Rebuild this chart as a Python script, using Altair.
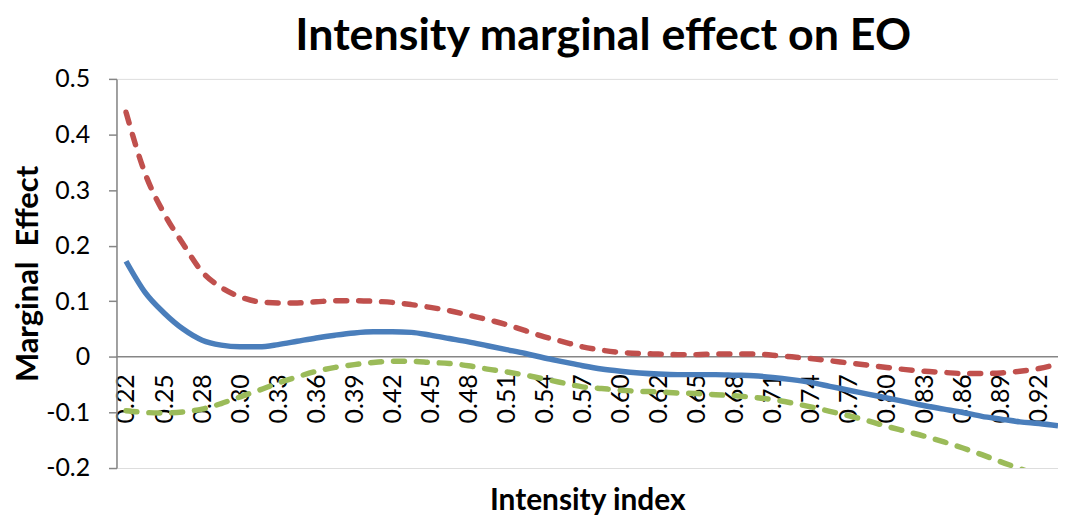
import altair as alt
import pandas as pd

# category positions along the x axis (every second one is labelled)
cats = ["0.22", "0.235", "0.25", "0.265", "0.28", "0.29", "0.30", "0.315", "0.33", "0.345",
        "0.36", "0.375", "0.39", "0.405", "0.42", "0.435", "0.45", "0.465", "0.48", "0.495",
        "0.51", "0.525", "0.54", "0.555", "0.57", "0.585", "0.60", "0.61", "0.62", "0.635",
        "0.65", "0.665", "0.68", "0.695", "0.71", "0.725", "0.74", "0.755", "0.77", "0.785",
        "0.80", "0.815", "0.83", "0.845", "0.86", "0.875", "0.89", "0.905", "0.92", "0.935"]

label_cats = ["0.22", "0.25", "0.28", "0.30", "0.33", "0.36", "0.39", "0.42", "0.45", "0.48",
              "0.51", "0.54", "0.57", "0.60", "0.62", "0.65", "0.68", "0.71", "0.74", "0.77",
              "0.80", "0.83", "0.86", "0.89", "0.92"]

effect = [0.172, 0.116, 0.079, 0.050, 0.030, 0.021, 0.018, 0.018, 0.022, 0.028,
          0.034, 0.039, 0.043, 0.045, 0.045, 0.044, 0.039, 0.033, 0.027, 0.020,
          0.013, 0.006, -0.002, -0.009, -0.016, -0.022, -0.026, -0.029, -0.031, -0.032,
          -0.032, -0.032, -0.033, -0.034, -0.037, -0.041, -0.046, -0.053, -0.060, -0.067,
          -0.074, -0.081, -0.088, -0.094, -0.100, -0.107, -0.112, -0.117, -0.120, -0.124]

upper = [0.440, 0.330, 0.258, 0.203, 0.153, 0.125, 0.108, 0.099, 0.097, 0.097,
         0.099, 0.101, 0.101, 0.100, 0.098, 0.094, 0.089, 0.083, 0.075, 0.067,
         0.058, 0.047, 0.036, 0.027, 0.018, 0.012, 0.008, 0.006, 0.005, 0.004,
         0.004, 0.005, 0.005, 0.005, 0.003, 0.000, -0.003, -0.007, -0.011, -0.015,
         -0.019, -0.023, -0.026, -0.028, -0.030, -0.030, -0.029, -0.026, -0.021, -0.013]

lower = [-0.097, -0.100, -0.101, -0.099, -0.094, -0.084, -0.072, -0.060, -0.047, -0.036,
         -0.026, -0.019, -0.014, -0.010, -0.008, -0.008, -0.010, -0.012, -0.016, -0.022,
         -0.027, -0.033, -0.040, -0.047, -0.054, -0.057, -0.060, -0.062, -0.063, -0.065,
         -0.066, -0.068, -0.070, -0.073, -0.077, -0.083, -0.090, -0.098, -0.106, -0.115,
         -0.125, -0.134, -0.143, -0.153, -0.164, -0.176, -0.189, -0.201, -0.214, -0.227]

y_ticks = [-0.2, -0.1, 0, 0.1, 0.2, 0.3, 0.4, 0.5]

df = pd.DataFrame({"idx": cats, "Effect": effect, "Upper": upper, "Lower": lower})
zero_df = pd.DataFrame({"v": [0]})

W, H = 946, 391
FONT = "Lato"
GRAY = "#868686"
AXIS_Y = H * 0.5 / 0.7  # pixel position of value 0 from the top of the plot

yscale = alt.Scale(domain=[-0.2, 0.5], nice=False, zero=False)
xscale = alt.Scale(type="point", domain=cats, range=[9.6, W], padding=0)

xaxis = alt.Axis(values=label_cats, labelAngle=270, offset=-(H - AXIS_Y),
                 ticks=False, domain=False, grid=False, labelPadding=17,
                 labelFont=FONT, labelFontSize=25, labelColor="black",
                 title="Intensity index", titleFont=FONT, titleFontSize=30,
                 titleFontWeight="bold", titleColor="black",
                 titleX=W / 2, titleY=153, titleBaseline="alphabetic", titleAlign="center")

yaxis = alt.Axis(values=y_ticks, grid=False, tickSize=8, tickColor=GRAY, tickWidth=1.5,
                 domainColor=GRAY, domainWidth=1.5, labelPadding=19,
                 labelExpr="datum.value == 0 ? '0' : (datum.value < 0 ? '-' + format(-datum.value, '.1f') : format(datum.value, '.1f'))",
                 labelFont=FONT, labelFontSize=25, labelColor="black",
                 title="Marginal\u00a0\u00a0Effect", titleFont=FONT, titleFontSize=31,
                 titleFontWeight="bold", titleColor="black", titleAngle=270,
                 titleX=-88, titleY=H / 2, titleBaseline="middle", titleAlign="center")

base = alt.Chart(df)
x_enc = alt.X("idx:O", sort=cats, scale=xscale, axis=xaxis, title="Intensity index")

zero_line = alt.Chart(zero_df).mark_rule(color=GRAY, strokeWidth=1.5).encode(
    y=alt.Y("v:Q", scale=yscale), x=alt.value(0), x2=alt.value(W + 3))

LW = 5.5
blue = base.mark_line(color="#4A7EBB", strokeWidth=LW, interpolate="monotone", clip=True).encode(
    x=x_enc, y=alt.Y("Effect:Q", scale=yscale, axis=yaxis))
red = base.mark_line(color="#C0504D", strokeWidth=LW, strokeDash=[11, 12], strokeCap="round",
                     interpolate="monotone", clip=True).encode(
    x=x_enc, y=alt.Y("Upper:Q", scale=yscale))
green = base.mark_line(color="#9BBB59", strokeWidth=LW, strokeDash=[11, 12], strokeCap="round",
                       interpolate="monotone", clip=True).encode(
    x=x_enc, y=alt.Y("Lower:Q", scale=yscale))

chart = alt.layer(zero_line, blue, red, green).properties(
    width=W, height=H,
    title=alt.TitleParams("Intensity marginal effect on EO", font=FONT, fontSize=45,
                          fontWeight="bold", color="black", anchor="middle", dx=16,
                          dy=14, offset=22),
    autosize=alt.AutoSizeParams(type="none"),
    padding={"left": 109, "top": 70, "right": 0, "bottom": 52},
).configure_view(stroke=None).configure(background="white")

chart.save("out.html", embed_options={"renderer": "svg", "actions": False})
